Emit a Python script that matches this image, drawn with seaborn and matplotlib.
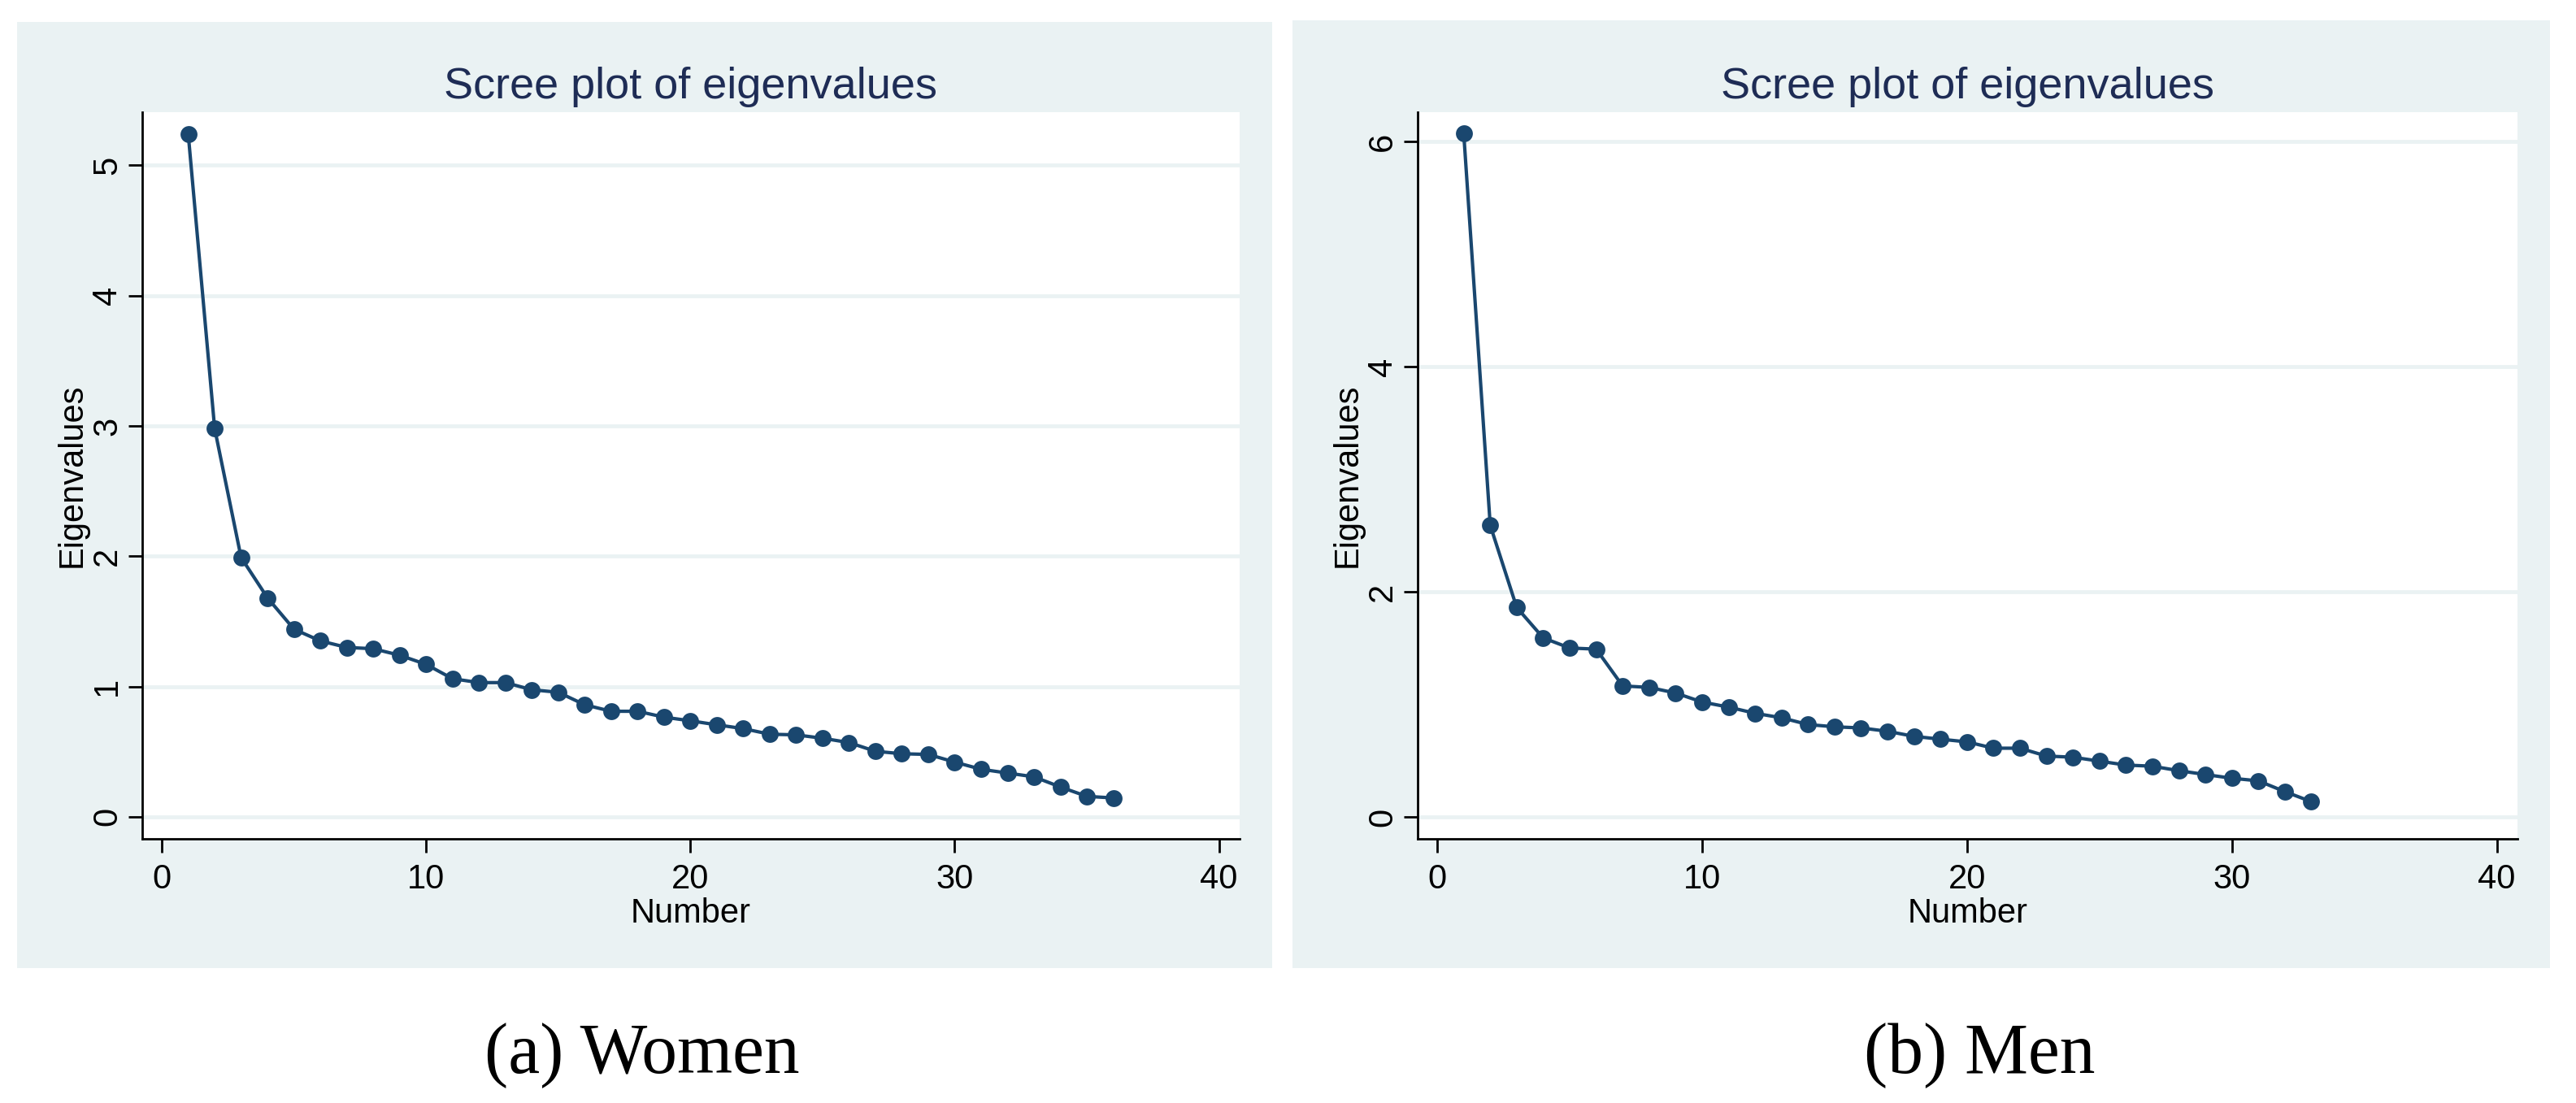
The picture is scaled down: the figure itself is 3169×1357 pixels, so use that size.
import numpy as np
import pandas as pd
import matplotlib
matplotlib.use("Agg")
import matplotlib.pyplot as plt
from matplotlib.patches import Rectangle
import seaborn as sns

sns.set_theme(style="white")
plt.rcParams['font.family'] = ['Liberation Sans', 'DejaVu Sans']

# eigenvalues
women_eig = [5.24, 2.98, 1.99, 1.68, 1.44, 1.35, 1.30, 1.29, 1.24, 1.17,
             1.06, 1.03, 1.03, 0.975, 0.956, 0.86, 0.81, 0.81, 0.765, 0.737,
             0.706, 0.677, 0.634, 0.629, 0.603, 0.57, 0.503, 0.484, 0.479, 0.42,
             0.365, 0.336, 0.307, 0.229, 0.157, 0.145]
men_eig = [6.07, 2.59, 1.86, 1.59, 1.50, 1.49, 1.163, 1.15, 1.10, 1.02,
           0.975, 0.92, 0.88, 0.82, 0.80, 0.79, 0.76, 0.715, 0.69, 0.666,
           0.61, 0.61, 0.54, 0.53, 0.495, 0.46, 0.45, 0.41, 0.376, 0.343,
           0.32, 0.224, 0.135]
women_yticks = [0, 1, 2, 3, 4, 5]
men_yticks = [0, 2, 4, 6]
x_ticks = [0, 10, 20, 30, 40]
captions = ["(a) Women", "(b) Men"]

navy = "#1A476F"
title_col = "#1E2C55"
panel_bg = "#EAF2F3"

fig = plt.figure(figsize=(31.69, 13.57), dpi=100, facecolor="white")

# light panel backgrounds behind each graph
fig.patches.append(Rectangle((0.00675, 0.12255), 0.48709, 0.85770,
                             transform=fig.transFigure, facecolor=panel_bg,
                             edgecolor="none", zorder=-10))
fig.patches.append(Rectangle((0.50174, 0.12233), 0.48817, 0.85896,
                             transform=fig.transFigure, facecolor=panel_bg,
                             edgecolor="none", zorder=-10))

ax1 = fig.add_axes([0.05522, 0.23972, 0.42600, 0.65829])
ax2 = fig.add_axes([0.55033, 0.23972, 0.42695, 0.65829])

panels = [
    (ax1, women_eig, women_yticks, (-0.167, 5.405)),
    (ax2, men_eig, men_yticks, (-0.193, 6.257)),
]

for ax, vals, yt, ylim in panels:
    df = pd.DataFrame({"Number": np.arange(1, len(vals) + 1), "Eigenvalues": vals})
    ax.set_facecolor("white")
    for y in yt:
        ax.axhline(y, color=panel_bg, linewidth=3.4, zorder=0)
    sns.lineplot(data=df, x="Number", y="Eigenvalues", ax=ax, color=navy,
                 linewidth=3.0, marker="o", markersize=15, markeredgewidth=0,
                 errorbar=None, zorder=3)
    ax.set_xlim(-0.74, 40.78)
    ax.set_ylim(*ylim)
    ax.set_xticks(x_ticks)
    ax.set_yticks(yt)
    ax.grid(False)
    for s in ["top", "right"]:
        ax.spines[s].set_visible(False)
    for s in ["left", "bottom"]:
        ax.spines[s].set_color("black")
        ax.spines[s].set_linewidth(2.0)
    ax.tick_params(axis="both", direction="out", length=12, width=2.0,
                   color="black", labelsize=30, labelcolor="black",
                   left=True, bottom=True)
    ax.tick_params(axis="x", pad=10)
    ax.tick_params(axis="y", pad=4.5)
    for lab in ax.get_yticklabels():
        lab.set_rotation(90)
        lab.set_va("center")
        lab.set_ha("right")
    ax.set_xlabel("Number", fontsize=30, color="black")
    ax.set_ylabel("Eigenvalues", fontsize=30, color="black")
    ax.xaxis.set_label_coords(0.5, -0.0804)
    ax.yaxis.set_label_coords(-0.049, 0.5)
    ax.text(0.5, 1.0198, "Scree plot of eigenvalues", transform=ax.transAxes,
            ha="center", va="baseline", fontsize=39, color=title_col)

fig.text(0.2493, 0.02727, captions[0], ha="center", va="baseline",
         fontsize=63, family=["Liberation Serif", "DejaVu Serif"], color="black")
fig.text(0.7684, 0.02727, captions[1], ha="center", va="baseline",
         fontsize=63, family=["Liberation Serif", "DejaVu Serif"], color="black")

fig.savefig("out.png", dpi=100, facecolor="white")
